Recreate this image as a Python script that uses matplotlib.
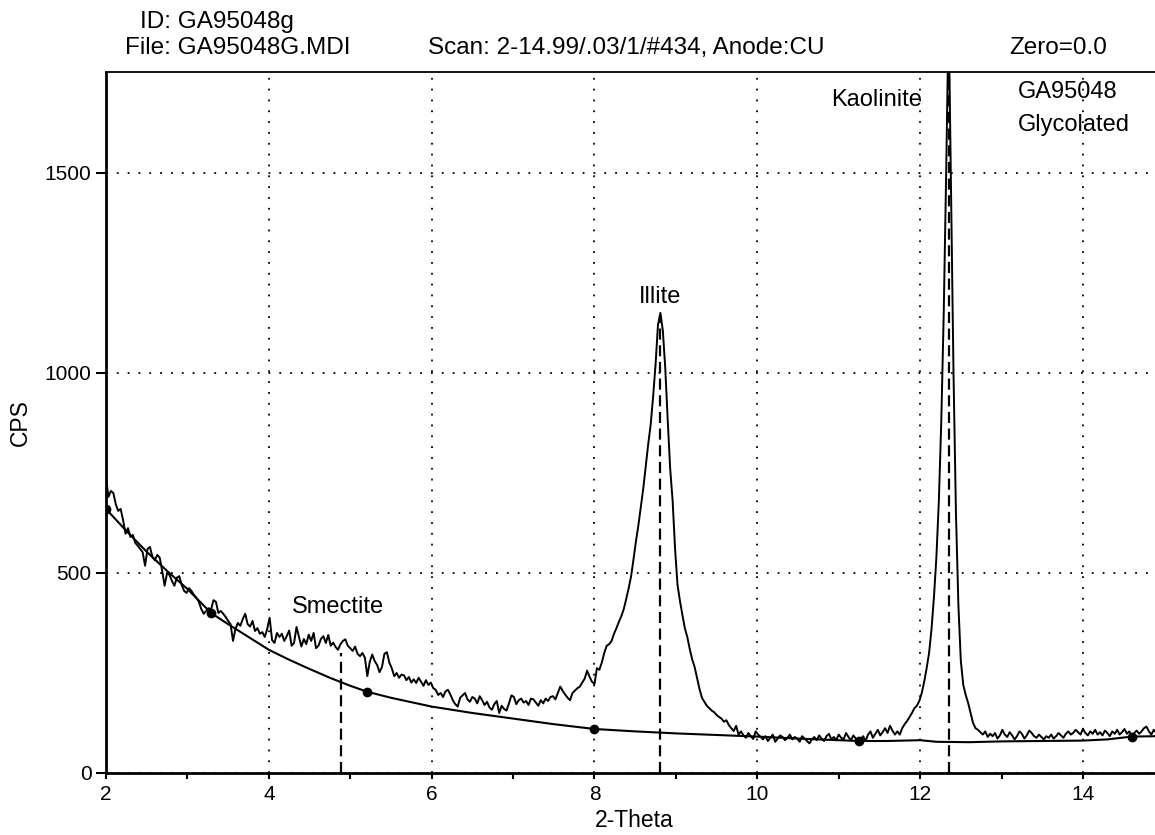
import numpy as np
import matplotlib
matplotlib.use("Agg")
import matplotlib.pyplot as plt

plt.rcParams['font.family'] = ['Liberation Sans', 'DejaVu Sans']

# scan: 2-14.99 step .03  (CPS, segment by segment)
start = 2.0
step = 0.03
cps_a = [740, 690, 705, 700, 672, 655, 660, 632, 598, 612, 590, 595, 575, 568, 560, 552, 518,
         560, 565, 540, 532, 545, 538, 505, 468, 500, 495, 480, 468, 488, 492, 470, 455, 450,
         462, 455, 445, 438, 428, 410, 398, 405, 412, 408, 432, 428, 400, 405, 398, 390, 380]
cps_b = [372, 330, 360, 375, 368, 385, 398, 372, 366, 380, 355, 362, 348, 352, 340, 360, 388,
         332, 325, 350, 340, 348, 330, 342, 356, 318, 325, 365, 340, 316, 335, 322, 346, 330,
         350, 312, 318, 335, 342, 325, 345, 318, 326, 315, 308, 322, 330, 334, 318, 312]
cps_c = [305, 316, 298, 292, 300, 288, 242, 278, 296, 280, 270, 252, 265, 298, 302, 276, 262,
         242, 250, 238, 246, 244, 232, 240, 226, 234, 225, 238, 228, 218, 232, 220, 226, 212,
         208, 195, 200, 190, 204, 208, 196, 182, 172, 166, 188, 194, 200, 184, 178, 190]
cps_d = [186, 174, 192, 182, 170, 178, 164, 158, 172, 180, 150, 168, 160, 156, 174, 194, 190,
         172, 182, 186, 176, 180, 170, 186, 184, 176, 168, 182, 174, 186, 180, 190, 192, 184,
         200, 216, 205, 196, 188, 182, 200, 206, 212, 216, 226, 236, 256, 240, 228, 222]
cps_e = [262, 258, 276, 300, 318, 322, 330, 348, 362, 378, 392, 410, 435, 462, 492, 535, 580,
         620, 665, 712, 768, 822, 870, 940, 1020, 1120, 1150, 1105, 1010, 880, 760, 680, 560,
         470, 430, 395, 362, 340, 310, 284, 265, 238, 210, 188, 178, 168, 162, 156, 152, 145,
         140, 136, 128, 132, 120, 112, 105, 118, 96, 104]
cps_f = [94, 88, 100, 92, 85, 104, 96, 90, 84, 92, 80, 88, 96, 78, 86, 94, 90, 82, 88, 96, 84,
         90, 86, 78, 92, 86, 80, 74, 84, 90, 82, 94, 86, 80, 92, 98, 84, 90, 82, 96, 88, 84, 100,
         90, 82, 94, 86, 78, 84, 92, 80, 96, 104, 88, 98, 108, 94, 102, 112, 100, 118, 106, 96,
         104, 96, 112, 122, 130, 140, 150]
cps_g = [162, 168, 180, 200, 228, 262, 300, 360, 440, 540, 680, 880, 1150, 1500, 1900, 1450,
         1000, 650, 420, 280, 220, 195, 175, 150, 125, 112, 108, 102, 96, 104, 90, 98, 92]
cps_h = [100, 86, 94, 108, 96, 90, 102, 94, 84, 92, 104, 98, 86, 94, 106, 100, 92, 88, 96, 90,
         84, 92, 88, 96, 86, 92, 100, 94, 88, 98, 104, 96, 100, 108, 102, 96, 110, 100, 94, 104,
         98, 108, 96, 102, 94, 106, 100, 92, 104, 98, 108, 96, 102, 110, 98, 104, 92, 100, 106,
         98, 104, 112, 116, 104, 96, 108, 100]

# background curve and its picked points
bg_theta = [2.0, 2.25, 2.5, 2.75, 3.0, 3.29, 3.5, 3.75, 4.0, 4.25, 4.5, 4.75, 5.0, 5.21, 5.5,
            6.0, 6.5, 7.0, 7.5, 8.0, 8.5, 9.0, 9.5, 10.0, 10.5, 11.0, 11.25, 11.6, 12.0, 12.2,
            12.6, 13.0, 13.5, 14.0, 14.3, 14.6, 14.9]
bg_cps = [660, 605, 553, 505, 460, 400, 372, 340, 308, 283, 260, 238, 218, 203, 188,
          166, 150, 136, 122, 110, 104, 99, 95, 91, 86, 82, 80, 80, 82, 78,
          77, 79, 80, 81, 84, 91, 92]
pick_theta = [2.0, 3.29, 5.21, 8.0, 11.25, 14.6]
pick_cps = [660, 400, 203, 110, 80, 91]

# peak markers
peak_names = ["Smectite", "Illite", "Kaolinite"]
peak_theta = [4.89, 8.80, 12.35]
peak_top = [300, 1145, 1760]

cps = cps_a + cps_b + cps_c + cps_d + cps_e + cps_f + cps_g + cps_h
theta = start + step * np.arange(len(cps))

fig = plt.figure(figsize=(11.55, 8.35), dpi=100)
ax = fig.add_axes([106 / 1155, 1 - 773 / 835, 1049 / 1155, 701 / 835])

ax.plot(theta, cps, color='black', lw=1.4)
ax.plot(bg_theta, bg_cps, color='black', lw=1.5)
ax.plot(pick_theta, pick_cps, 'o', color='black', ms=6)
for t, top in zip(peak_theta, peak_top):
    ax.plot([t, t], [0, top], color='black', lw=1.6, ls=(0, (5, 2.5)))

ax.set_xlim(2, 14.885)
ax.set_ylim(0, 1752)
ax.set_xticks([2, 4, 6, 8, 10, 12, 14])
ax.set_xticks([3, 5, 7, 9, 11, 13], minor=True)
ax.set_yticks([0, 500, 1000, 1500])
ax.grid(True, which='major', color='black', lw=1.3, ls=(0, (1, 5)))
ax.tick_params(axis='x', which='both', direction='out', length=4.5, width=1.5,
               labelsize=15, pad=4)
ax.tick_params(axis='y', direction='out', length=7.5, width=1.5, labelsize=15, pad=3)

for side in ['left', 'bottom']:
    ax.spines[side].set_linewidth(2)
ax.spines['top'].set_linewidth(1.3)
ax.spines['right'].set_visible(False)

ax.set_xlabel("2-Theta", fontsize=16.5)
ax.set_ylabel("CPS", fontsize=16.5)
ax.xaxis.set_label_coords(0.504, -0.052)
ax.yaxis.set_label_coords(-0.071, 0.5)

# labels in the plot
ax.text(4.85, 415, peak_names[0], fontsize=17, ha='center', va='center')
ax.text(8.80, 1190, peak_names[1], fontsize=17, ha='center', va='center')
ax.text(12.02, 1683, peak_names[2], fontsize=17, ha='right', va='center')
ax.text(13.2, 1703, "GA95048", fontsize=17, ha='left', va='center')
ax.text(13.2, 1620, "Glycolated", fontsize=17, ha='left', va='center')

# header
fig.text(140 / 1155, 1 - 22 / 835, "ID: GA95048g", fontsize=17.5, va='center')
fig.text(125 / 1155, 1 - 48 / 835, "File: GA95048G.MDI", fontsize=17.5, va='center')
fig.text(428 / 1155, 1 - 48 / 835, "Scan: 2-14.99/.03/1/#434, Anode:CU", fontsize=17.5, va='center')
fig.text(1009 / 1155, 1 - 48 / 835, "Zero=0.0", fontsize=17.5, va='center')

fig.savefig("out.png", dpi=100)
